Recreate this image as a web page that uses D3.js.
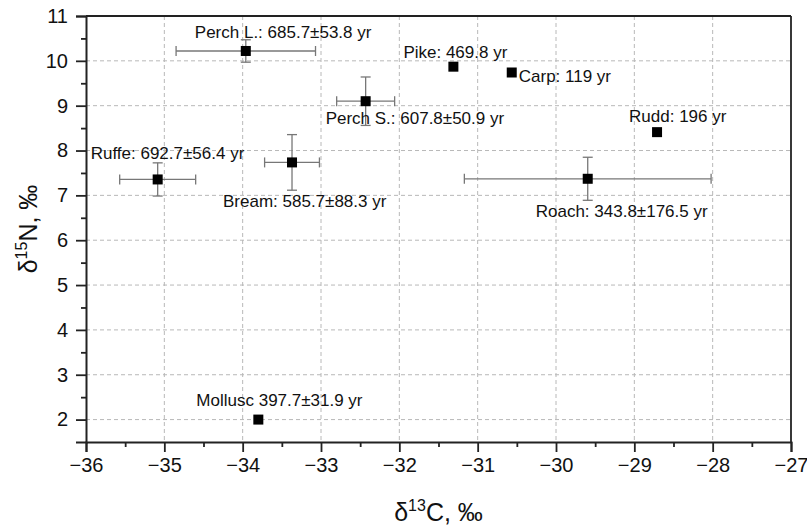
<!DOCTYPE html>
<html>
<head>
<meta charset="utf-8">
<script src="https://cdn.jsdelivr.net/npm/d3@7"></script>
<style>
  html, body { margin: 0; padding: 0; background: #fff; }
  svg { display: block; font-family: "Liberation Sans", Arial, sans-serif; }
</style>
</head>
<body>
<svg id="chart" width="807" height="525"></svg>
<script>
// ---- data ----
const species = ["Perch L.", "Perch S.", "Ruffe", "Bream", "Pike", "Carp", "Rudd", "Roach", "Mollusc"];
const labels = ["Perch L.: 685.7±53.8 yr", "Perch S.: 607.8±50.9 yr", "Ruffe: 692.7±56.4 yr",
                "Bream: 585.7±88.3 yr", "Pike: 469.8 yr", "Carp: 119 yr", "Rudd: 196 yr",
                "Roach: 343.8±176.5 yr", "Mollusc 397.7±31.9 yr"];
const d13C = [-33.96, -32.43, -35.085, -33.37, -31.31, -30.565, -28.71, -29.595, -33.80];
const d15N = [10.22, 9.10, 7.355, 7.735, 9.87, 9.74, 8.41, 7.37, 2.0];
const errC = [0.89, 0.37, 0.485, 0.35, 0, 0, 0, 1.575, 0];
const errN = [0.25, 0.54, 0.37, 0.62, 0, 0, 0, 0.48, 0];
const xTicks = [-36, -35, -34, -33, -32, -31, -30, -29, -28, -27];
const yTicks = [2, 3, 4, 5, 6, 7, 8, 9, 10, 11];

// ---- layout (label offsets in px from point centre to text start/baseline) ----
const labelOffset = {
  "Perch L.": [-51, -13], "Perch S.": [-40, 23], "Ruffe": [-67, -20], "Bream": [-69, 45],
  "Pike": [-50, -9], "Carp": [7, 9], "Rudd": [-28, -10], "Roach": [-52, 38], "Mollusc": [-62, -14]
};

const margin = { left: 86, top: 16, right: 16, bottom: 83 };
const W = 807, H = 525;
const iw = W - margin.left - margin.right, ih = H - margin.top - margin.bottom;

const svg = d3.select("#chart");
const g = svg.append("g").attr("transform", `translate(${margin.left},${margin.top})`);

const x = d3.scaleLinear().domain([-36, -27]).range([0, iw]);
const y = d3.scaleLinear().domain([1.5, 11]).range([ih, 0]);

// grid
g.append("g").selectAll("line").data(xTicks.filter(v => v > -36 && v < -27)).join("line")
  .attr("x1", d => x(d)).attr("x2", d => x(d)).attr("y1", 0).attr("y2", ih)
  .attr("stroke", "#b8b8b8").attr("stroke-width", 1).attr("stroke-dasharray", "4,3");
g.append("g").selectAll("line").data(yTicks.filter(v => v < 11)).join("line")
  .attr("y1", d => y(d)).attr("y2", d => y(d)).attr("x1", 0).attr("x2", iw)
  .attr("stroke", "#b8b8b8").attr("stroke-width", 1).attr("stroke-dasharray", "4,3");

// frame top/right
g.append("line").attr("x1", 0).attr("x2", iw).attr("y1", 0).attr("y2", 0).attr("stroke", "#222").attr("stroke-width", 1.8);
g.append("line").attr("x1", iw).attr("x2", iw).attr("y1", 0).attr("y2", ih).attr("stroke", "#222").attr("stroke-width", 1.8);

// axes
const fmt = d3.format("d");
const xAxis = g.append("g").attr("transform", `translate(0,${ih})`)
  .call(d3.axisBottom(x).tickValues(xTicks).tickFormat(fmt).tickSize(10).tickPadding(6));
const xMinor = g.append("g").attr("transform", `translate(0,${ih})`)
  .call(d3.axisBottom(x).tickValues(d3.range(-35.5, -27, 1)).tickFormat("").tickSize(5));
const yAxis = g.append("g")
  .call(d3.axisLeft(y).tickValues(yTicks).tickFormat(fmt).tickSize(10).tickPadding(8));
const yMinor = g.append("g")
  .call(d3.axisLeft(y).tickValues(d3.range(2.5, 11, 1)).tickFormat("").tickSize(5));

[xAxis, xMinor, yAxis, yMinor].forEach(a => {
  a.select(".domain").attr("stroke", "#222").attr("stroke-width", 2);
  a.selectAll(".tick line").attr("stroke", "#222").attr("stroke-width", 1.8);
});
xMinor.select(".domain").remove();
yMinor.select(".domain").remove();
[xAxis, yAxis].forEach(a => a.selectAll(".tick text")
  .attr("font-size", 20).attr("fill", "#111").attr("font-family", "'Liberation Sans', Arial, sans-serif"));

// error bars
const idx = d3.range(species.length);
const eb = g.append("g").attr("stroke", "#777").attr("stroke-width", 1.3);
idx.filter(i => errC[i] > 0).forEach(i => {
  const cy = y(d15N[i]);
  eb.append("line").attr("x1", x(d13C[i] - errC[i])).attr("x2", x(d13C[i] + errC[i])).attr("y1", cy).attr("y2", cy);
  [-1, 1].forEach(s => eb.append("line")
    .attr("x1", x(d13C[i] + s * errC[i])).attr("x2", x(d13C[i] + s * errC[i]))
    .attr("y1", cy - 5).attr("y2", cy + 5));
});
idx.filter(i => errN[i] > 0).forEach(i => {
  const cx = x(d13C[i]);
  eb.append("line").attr("y1", y(d15N[i] - errN[i])).attr("y2", y(d15N[i] + errN[i])).attr("x1", cx).attr("x2", cx);
  [-1, 1].forEach(s => eb.append("line")
    .attr("y1", y(d15N[i] + s * errN[i])).attr("y2", y(d15N[i] + s * errN[i]))
    .attr("x1", cx - 5).attr("x2", cx + 5));
});

// markers
const ms = 10;
g.append("g").selectAll("rect").data(idx).join("rect")
  .attr("x", i => x(d13C[i]) - ms / 2).attr("y", i => y(d15N[i]) - ms / 2)
  .attr("width", ms).attr("height", ms).attr("fill", "#000");

// labels
g.append("g").selectAll("text").data(idx).join("text")
  .attr("x", i => x(d13C[i]) + labelOffset[species[i]][0])
  .attr("y", i => y(d15N[i]) + labelOffset[species[i]][1])
  .attr("font-size", 17).attr("fill", "#111")
  .text(i => labels[i]);

// axis titles
const xt = svg.append("text").attr("x", margin.left + iw / 2).attr("y", 521)
  .attr("text-anchor", "middle").attr("font-size", 25).attr("fill", "#111");
xt.append("tspan").text("δ");
xt.append("tspan").attr("font-size", 16).attr("dy", -10).text("13");
xt.append("tspan").attr("dy", 10).text("C, ‰");

const yt = svg.append("text")
  .attr("transform", `translate(37,${margin.top + ih / 2}) rotate(-90)`)
  .attr("text-anchor", "middle").attr("font-size", 25).attr("fill", "#111");
yt.append("tspan").text("δ");
yt.append("tspan").attr("font-size", 16).attr("dy", -10).text("15");
yt.append("tspan").attr("dy", 10).text("N, ‰");
</script>
</body>
</html>
